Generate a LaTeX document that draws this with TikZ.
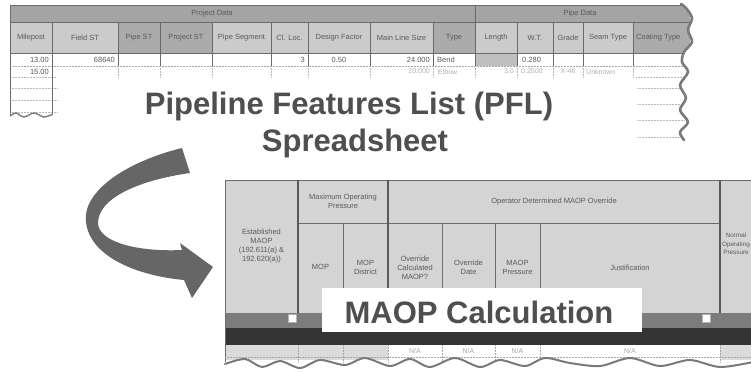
\documentclass[tikz,border=0pt]{standalone}
\usepackage{fontspec}
\setmainfont{Liberation Sans}
\definecolor{hdA}{HTML}{A4A4A4}
\definecolor{hdB}{HTML}{CBCBCB}
\definecolor{hdC}{HTML}{ABABAB}
\definecolor{gline}{HTML}{6A6A6A}
\definecolor{tgray}{HTML}{5A5A5A}
\definecolor{titlec}{HTML}{4F4F4F}
\definecolor{arrowc}{HTML}{666666}
\definecolor{bhd}{HTML}{D4D4D4}
\definecolor{bandA}{HTML}{7C7C7C}
\definecolor{bandB}{HTML}{343434}
\definecolor{tornc}{HTML}{7A7A7A}
\begin{document}
\begin{tikzpicture}[x=1pt,y=-1pt,
  grid/.style={draw=gline,line width=0.7pt},
  faint/.style={draw=gray!55,line width=0.5pt,densely dotted},
  thickgrid/.style={draw=gline!85!black,line width=1.4pt},
  small/.style={font=\fontsize{7.5}{9}\selectfont,text=tgray,inner sep=1pt,align=center},
  fainttxt/.style={font=\fontsize{7}{8}\selectfont,text=gray!60,inner sep=1pt},
  bigtitle/.style={font=\fontsize{31}{37}\selectfont\bfseries,text=titlec,inner sep=0pt},
  torn/.style={draw=tornc,line width=2.6pt,line cap=round,line join=round},
  fbtn/.style={draw=gray!60,fill=white,line width=0.4pt,minimum size=8pt,inner sep=0pt}]
\useasboundingbox (0,0) rectangle (751,372);
\fill[white] (0,0) rectangle (751,372);
\begin{scope}
\clip (0,0) rectangle (751,372);
% ================= top table =================
\fill[hdA] (10,5) rectangle (690,22);
\fill[hdB] (10,22) rectangle (690,53);
\fill[hdC] (118,22) rectangle (212,53);
\fill[hdC] (433,22) rectangle (475,53);
\fill[hdC] (633,22) rectangle (690,53);
\fill[gray!50] (475,53) rectangle (517,66);
% horizontal lines
\draw[grid] (10,5) -- (690,5);
\draw[grid] (10,22) -- (690,22);
\draw[grid] (10,53) -- (690,53);
\draw[faint,draw=gray!70] (10,66) -- (690,66);
\draw[faint] (10,77) -- (56,77);
\draw[faint] (636,77) -- (690,77);
\foreach \yy in {88,100,112} \draw[faint] (10,\yy) -- (58,\yy);
\foreach \yy in {88,104,120,137} \draw[faint] (637,\yy) -- (684,\yy);
% vertical lines
\draw[grid] (10,5) -- (10,115);
\draw[grid] (52,22) -- (52,115);
\draw[grid] (475,5) -- (475,66);
\foreach \xx in {118,160,212,271,308,370,433,517,553,583,633}
  \draw[grid] (\xx,22) -- (\xx,66);
\foreach \xx in {118,160,212,271,308,370,433,475,517,553,583,633}
  \draw[faint] (\xx,66) -- (\xx,78);
% header texts
\node[small] (pd) at (212,13.5) {Project Data};
\node[small] (pid) at (580,13.5) {Pipe Data};
\node[small] (h1) at (31,37.5) {Milepost};
\node[small] (h2) at (85,37.5) {Field ST};
\node[small] (h3) at (139,37.5) {Pipe ST};
\node[small] (h4) at (186,37.5) {Project ST};
\node[small] (h5) at (241.5,37.5) {Pipe Segment};
\node[small] (h6) at (289.5,37.5) {Cl. Loc.};
\node[small] (h7) at (339,37.5) {Design Factor};
\node[small] (h8) at (401.5,37.5) {Main Line Size};
\node[small] (h9) at (454,37.5) {Type};
\node[small] (h10) at (496,37.5) {Length};
\node[small] (h11) at (535,37.5) {W.T.};
\node[small] (h12) at (568,37.5) {Grade};
\node[small] (h13) at (608,37.5) {Seam Type};
\node[small,anchor=west] (h14) at (635,37.5) {Coating Type};
% data row 1
\node[small,anchor=east] (d1) at (50,59.5) {13.00};
\node[small,anchor=east] (d2) at (116,59.5) {68640};
\node[small,anchor=east] (d3) at (306,59.5) {3};
\node[small] (d4) at (339,59.5) {0.50};
\node[small,anchor=east] (d5) at (431,59.5) {24.000};
\node[small,anchor=west] (d6) at (436,59.5) {Bend};
\node[small,anchor=west] (d7) at (521,59.5) {0.280};
% data row 2
\node[small,anchor=east] (e1) at (50,71.5) {15.00};
\node[fainttxt,anchor=east] (e2) at (431,71.5) {20.000};
\node[fainttxt,anchor=west] (e3) at (437,71.5) {Elbow};
\node[fainttxt,anchor=east] (e4) at (515,71.5) {3.0};
\node[fainttxt,anchor=west] (e5) at (520,71.5) {0.2500};
\node[fainttxt] (e6) at (568,71.5) {X-46};
\node[fainttxt,anchor=west] (e7) at (585,71.5) {Unknown};
% torn right edge
\fill[white] plot[smooth] coordinates {(681,0) (686,8) (692,18) (688,30) (692,42) (684,52) (682,62) (688,72) (680,85) (686,98) (680,110) (688,122) (680,132) (684,145)} -- (751,145) -- (751,0) -- cycle;
\draw[torn] plot[smooth] coordinates {(681,4) (686,8) (692,18) (688,30) (692,42) (684,52) (682,62) (688,72) (680,85) (686,98) (680,110) (688,122) (680,132) (684,140)};
% ragged bottom of milepost column
\fill[white] plot[smooth] coordinates {(8,116) (16,113) (24,117) (34,113) (44,117) (55,114)} -- (55,125) -- (8,125) -- cycle;
\draw[draw=tornc,line width=1.4pt] plot[smooth] coordinates {(10,116) (16,113) (24,117) (34,113) (44,117) (53,114)};
% ================= title =================
\node[bigtitle,anchor=base] (t1) at (349,114) {Pipeline Features List (PFL)};
\node[bigtitle,anchor=base] (t2) at (355,151) {Spreadsheet};
% ================= curved arrow =================
\fill[arrowc] (182,148) .. controls (125,162) and (82,192) .. (86,222)
  .. controls (90,258) and (140,276) .. (184,280)
  -- (192,298) -- (213,267) -- (180,243) -- (182,250)
  .. controls (140,252) and (100,243) .. (98,224)
  .. controls (97,198) and (140,180) .. (190,173) -- cycle;
% ================= bottom table =================
\fill[bhd] (225,180) rectangle (751,313);
\fill[bandA] (225,313) rectangle (751,328);
\fill[bandB] (225,328) rectangle (751,345);
\fill[gray!28] (225,345) rectangle (388,360);
\fill[white] (388,345) rectangle (720,360);
\fill[gray!28] (720,345) rectangle (751,360);
\draw[grid] (225,180) -- (751,180);
\draw[grid] (298,223) -- (720,223);
\draw[grid] (225,180) -- (225,362);
\draw[thickgrid] (298,180) -- (298,313);
\draw[thickgrid] (388,180) -- (388,313);
\draw[thickgrid] (720,180) -- (720,313);
\foreach \xx in {343,442,495,540} \draw[grid] (\xx,223) -- (\xx,313);
\foreach \xx in {298,343,388,442,495,540,720} \draw[faint,draw=gray!70] (\xx,345) -- (\xx,362);
\draw[faint,draw=gray!70] (225,357) -- (751,357);
\node[fbtn] (b1) at (292.5,318.5) {};
\node[fbtn] (b2) at (706.5,318.5) {};
% header texts
\node[small] (m1) at (261.5,246) {Established\\MAOP\\(192.611(a) \&\\192.620(a))};
\node[small] (m2) at (343,201) {Maximum Operating\\Pressure};
\node[small] (m3) at (554,202) {Operator Determined MAOP Override};
\node[small] (m4) at (320.5,267) {MOP};
\node[small] (m5) at (365.5,267) {MOP\\District};
\node[small] (m6) at (415,268) {Override\\Calculated\\MAOP?};
\node[small] (m7) at (468.5,267) {Override\\Date};
\node[small] (m8) at (517.5,267) {MAOP\\Pressure};
\node[small] (m9) at (630,268) {Justification};
\node[small,font=\fontsize{6.3}{8.5}\selectfont,inner sep=0pt] (m10) at (736,244) {Normal\\Operating\\Pressure};
% N/A row
\node[fainttxt,text=gray!70] (n1) at (415,351) {N/A};
\node[fainttxt,text=gray!70] (n2) at (468.5,351) {N/A};
\node[fainttxt,text=gray!70] (n3) at (517.5,351) {N/A};
\node[fainttxt,text=gray!70] (n4) at (630,351) {N/A};
% torn bottom edge
\fill[white] plot[smooth] coordinates {(222,364) (245,359) (262,367) (280,361) (300,368) (320,360) (345,365) (365,358) (390,366) (410,359) (430,367) (455,358) (480,367) (500,360) (525,366) (545,358) (570,363) (600,366) (630,358) (660,366) (690,360) (720,367) (753,362)} -- (753,374) -- (222,374) -- cycle;
\draw[torn,line width=2pt] plot[smooth] coordinates {(225,364) (245,359) (262,367) (280,361) (300,368) (320,360) (345,365) (365,358) (390,366) (410,359) (430,367) (455,358) (480,367) (500,360) (525,366) (545,358) (570,363) (600,366) (630,358) (660,366) (690,360) (720,367) (753,362)};
% label box
\node[fill=white,minimum width=320pt,minimum height=44pt,inner sep=0pt] (mbox) at (482,310) {};
\node[bigtitle,anchor=base] (mt) at (479,323) {MAOP Calculation};
\end{scope}
\end{tikzpicture}
\end{document}
